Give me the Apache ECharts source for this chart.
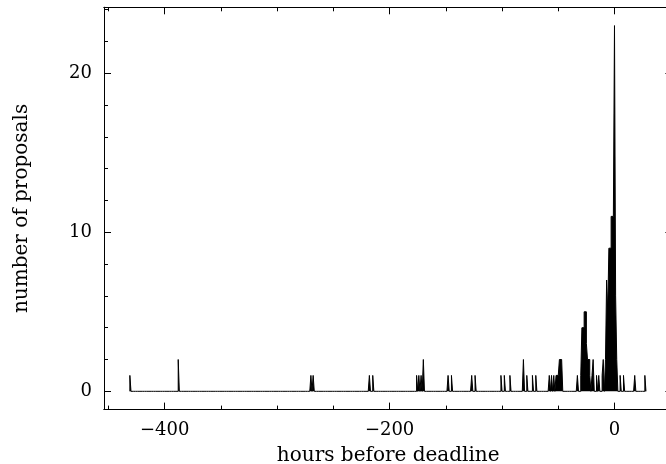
<!DOCTYPE html>
<html><head><meta charset="utf-8">
<script src="https://cdn.jsdelivr.net/npm/echarts@6/dist/echarts.min.js"></script>
<style>html,body{margin:0;padding:0;background:#fff}#c{width:666px;height:464px}</style>
</head><body><div id="c"></div>
<script>
// Histogram: number of proposals per 1-hour bin (bin start in hours before deadline)
const binWidth = 1;
const binStarts = [-431, -388, -270, -268, -218, -215,
  -176, -174, -172, -170, -148, -145, -127, -124, -101, -98, -93, -81, -78, -73, -70,
  -58, -56, -54, -52, -51, -50, -49, -48, -47, -33,
  -30, -29, -28, -27, -26, -25, -24, -23, -22, -20, -19, -16, -14, -11, -10,
  -8, -7, -6, -5, -4, -3, -2, -1, 0, 1, 2, 5, 8, 18, 27];
const binCounts = [1, 2, 1, 1, 1, 1,
  1, 1, 1, 2, 1, 1, 1, 1, 1, 1, 1, 2, 1, 1, 1,
  1, 1, 1, 1, 1, 1, 2, 2, 2, 1,
  1, 4, 4, 5, 5, 3, 2, 2, 1, 1, 2, 1, 1, 1, 2,
  2, 7, 5, 9, 9, 11, 11, 11, 23, 6, 2, 1, 1, 1, 1];
const xMajorTicks = [-400, -200, 0];
const xMinorTicks = [-450, -400, -350, -300, -250, -200, -150, -100, -50, 0, 50];
const yMajorTicks = [0, 10, 20];
const yMinorTicks = [0, 2, 4, 6, 8, 10, 12, 14, 16, 18, 20, 22, 24];
const xRange = [-454, 51.5];
const yRange = [-1.15, 24.15];
const xTitle = 'hours before deadline';
const yTitle = 'number of proposals';

// build step outline from bins
const countMap = new Map();
binStarts.forEach((h, i) => countMap.set(h, binCounts[i]));
const first = binStarts[0];
const last = binStarts[binStarts.length - 1] + binWidth;
const outline = [[first, 0]];
for (let h = first; h < last; h += binWidth) {
  const c = countMap.get(h) || 0;
  outline.push([h, c], [h + binWidth, c]);
}
outline.push([last, 0]);

const font = 'DejaVu Serif';
const fmt = v => (v < 0 ? '\u2212' + Math.abs(v) : String(v));
const lineStyle = { color: '#000', width: 1 };
function xAx(pos, ticks, len, labels) {
  const a = {
    type: 'value', min: xRange[0], max: xRange[1], position: pos,
    axisLine: { show: true, onZero: false, lineStyle },
    axisTick: { show: true, inside: true, length: len, customValues: ticks, lineStyle },
    axisLabel: labels ? { show: true, customValues: ticks, formatter: fmt, fontFamily: font, fontSize: 18, color: '#000', margin: 12 } : { show: false },
    splitLine: { show: false }
  };
  if (labels) {
    a.name = xTitle; a.nameLocation = 'middle'; a.nameGap = 36;
    a.nameTextStyle = { fontFamily: font, fontSize: 20, color: '#000' };
  }
  return a;
}
function yAx(pos, ticks, len, labels) {
  const a = {
    type: 'value', min: yRange[0], max: yRange[1], position: pos,
    axisLine: { show: true, onZero: false, lineStyle },
    axisTick: { show: true, inside: true, length: len, customValues: ticks, lineStyle },
    axisLabel: labels ? { show: true, customValues: ticks, formatter: fmt, fontFamily: font, fontSize: 18, color: '#000', margin: 12 } : { show: false },
    splitLine: { show: false }
  };
  if (labels) {
    a.name = yTitle; a.nameLocation = 'middle'; a.nameGap = 72;
    a.nameTextStyle = { fontFamily: font, fontSize: 20, color: '#000' };
  }
  return a;
}
const chart = echarts.init(document.getElementById('c'), null, { renderer: 'canvas' });
chart.setOption({
  animation: false,
  backgroundColor: '#fff',
  grid: { left: 104, top: 7.3, width: 568.4, height: 402.3, containLabel: false, outerBoundsMode: 'none' },
  xAxis: [xAx('bottom', xMajorTicks, 7, true), xAx('bottom', xMinorTicks, 4, false),
          xAx('top', xMajorTicks, 7, false), xAx('top', xMinorTicks, 4, false)],
  yAxis: [yAx('left', yMajorTicks, 7, true), yAx('left', yMinorTicks, 4, false),
          yAx('right', yMajorTicks, 7, false), yAx('right', yMinorTicks, 4, false)],
  series: [{
    type: 'line', xAxisIndex: 0, yAxisIndex: 0, data: outline,
    showSymbol: false, symbol: 'none', lineStyle: { color: '#000', width: 1 },
    areaStyle: { color: '#000', opacity: 1 },
    silent: true
  }]
});
</script></body></html>
